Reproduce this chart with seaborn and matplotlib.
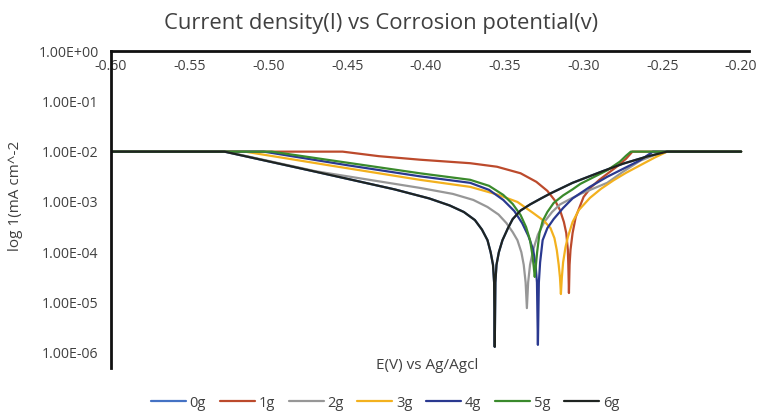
import numpy as np
import pandas as pd
import matplotlib
matplotlib.use("Agg")
import matplotlib.pyplot as plt
from matplotlib.ticker import FuncFormatter, NullLocator, FixedLocator
import seaborn as sns

# Tafel curves: potential (V) and log10 of current density
e_0g = [-0.600, -0.528, -0.470, -0.420, -0.398, -0.385, -0.376, -0.369, -0.3645, -0.361, -0.359, -0.3575, -0.3568, -0.3564,
        -0.3560, -0.3553, -0.3538, -0.3515, -0.348, -0.345, -0.340, -0.334, -0.327, -0.321, -0.307, -0.288, -0.275, -0.260, -0.247, -0.200]
log_i_0g = [-2.00, -2.00, -2.40, -2.75, -2.93, -3.07, -3.20, -3.36, -3.55, -3.76, -4.00, -4.25, -4.60, -5.88,
            -4.60, -4.25, -4.00, -3.76, -3.52, -3.34, -3.17, -3.05, -2.93, -2.83, -2.62, -2.39, -2.24, -2.10, -2.00, -2.00]

e_1g = [-0.600, -0.453, -0.430, -0.404, -0.372, -0.355, -0.340, -0.330, -0.323, -0.318, -0.315, -0.3125, -0.311, -0.310, -0.3097, -0.3093,
        -0.3089, -0.3083, -0.307, -0.305, -0.300, -0.295, -0.290, -0.279, -0.273, -0.269, -0.200]
log_i_1g = [-2.00, -2.00, -2.09, -2.16, -2.23, -2.30, -2.43, -2.60, -2.78, -2.98, -3.16, -3.40, -3.62, -3.95, -4.25, -4.81,
            -4.25, -3.95, -3.62, -3.30, -2.90, -2.70, -2.56, -2.30, -2.14, -2.00, -2.00]

e_2g = [-0.600, -0.527, -0.470, -0.404, -0.383, -0.370, -0.361, -0.354, -0.349, -0.345, -0.342, -0.3395, -0.338, -0.3368, -0.336,
        -0.3352, -0.334, -0.332, -0.329, -0.325, -0.320, -0.315, -0.309, -0.302, -0.285, -0.275, -0.264, -0.252, -0.247, -0.200]
log_i_2g = [-2.00, -2.00, -2.39, -2.72, -2.84, -2.96, -3.10, -3.25, -3.42, -3.60, -3.76, -4.00, -4.25, -4.60, -5.11,
            -4.60, -4.25, -3.95, -3.65, -3.40, -3.20, -3.05, -2.95, -2.84, -2.62, -2.40, -2.18, -2.03, -2.00, -2.00]

e_3g = [-0.600, -0.515, -0.460, -0.404, -0.372, -0.355, -0.342, -0.332, -0.325, -0.321, -0.3185, -0.317, -0.3158, -0.315, -0.3144,
        -0.3138, -0.313, -0.3115, -0.310, -0.307, -0.303, -0.296, -0.289, -0.281, -0.273, -0.264, -0.255, -0.247, -0.200]
log_i_3g = [-2.00, -2.00, -2.28, -2.56, -2.70, -2.85, -3.00, -3.22, -3.38, -3.52, -3.72, -3.96, -4.25, -4.50, -4.83,
            -4.50, -4.20, -3.90, -3.70, -3.40, -3.16, -2.92, -2.74, -2.57, -2.42, -2.27, -2.12, -2.00, -2.00]

e_4g = [-0.600, -0.503, -0.450, -0.404, -0.372, -0.360, -0.351, -0.344, -0.339, -0.335, -0.332, -0.3305, -0.3296, -0.329,
        -0.3284, -0.3276, -0.326, -0.323, -0.319, -0.313, -0.307, -0.296, -0.285, -0.264, -0.256, -0.200]
log_i_4g = [-2.00, -2.00, -2.27, -2.49, -2.62, -2.76, -2.96, -3.18, -3.42, -3.68, -3.95, -4.25, -4.60, -5.84,
            -4.60, -4.20, -3.76, -3.52, -3.34, -3.12, -2.93, -2.70, -2.50, -2.17, -2.00, -2.00]

e_5g = [-0.600, -0.498, -0.450, -0.404, -0.372, -0.360, -0.351, -0.345, -0.340, -0.3365, -0.334, -0.3325, -0.3316, -0.331,
        -0.3304, -0.3295, -0.328, -0.326, -0.323, -0.319, -0.313, -0.307, -0.302, -0.285, -0.277, -0.273, -0.270, -0.200]
log_i_5g = [-2.00, -2.00, -2.22, -2.43, -2.56, -2.68, -2.86, -3.04, -3.26, -3.50, -3.76, -4.05, -4.30, -4.49,
            -4.30, -4.00, -3.62, -3.38, -3.20, -3.02, -2.87, -2.75, -2.64, -2.37, -2.20, -2.08, -2.00, -2.00]

e_6g = [-0.600, -0.528, -0.470, -0.420, -0.398, -0.385, -0.376, -0.369, -0.3645, -0.361, -0.359, -0.3575, -0.3568, -0.3564,
        -0.3560, -0.3553, -0.3538, -0.3515, -0.348, -0.345, -0.340, -0.334, -0.327, -0.321, -0.307, -0.288, -0.275, -0.260, -0.247, -0.200]
log_i_6g = [-2.00, -2.00, -2.40, -2.75, -2.93, -3.07, -3.20, -3.36, -3.55, -3.76, -4.00, -4.25, -4.60, -5.88,
            -4.60, -4.25, -4.00, -3.76, -3.52, -3.34, -3.17, -3.05, -2.93, -2.83, -2.62, -2.39, -2.24, -2.10, -2.00, -2.00]

series_names = ["0g", "1g", "2g", "3g", "4g", "5g", "6g"]
series_e = [e_0g, e_1g, e_2g, e_3g, e_4g, e_5g, e_6g]
series_log_i = [log_i_0g, log_i_1g, log_i_2g, log_i_3g, log_i_4g, log_i_5g, log_i_6g]
colors = ["#4472C4", "#BC4A2C", "#979797", "#F3B11E", "#2A3990", "#3A8A2C", "#1F2421"]

x_ticks = [-0.60, -0.55, -0.50, -0.45, -0.40, -0.35, -0.30, -0.25, -0.20]
y_ticks = [1e-6, 1e-5, 1e-4, 1e-3, 1e-2, 1e-1, 1e0]

frames = []
for name, e, li in zip(series_names, series_e, series_log_i):
    frames.append(pd.DataFrame({"E": e, "I": 10 ** np.array(li), "sample": name}))
df = pd.concat(frames, ignore_index=True)

sns.set_style("white")
plt.rcParams["font.family"] = ["Open Sans", "DejaVu Sans"]

fig = plt.figure(figsize=(7.6, 4.11), dpi=100)
ax = fig.add_axes([111 / 760, 1 - 368 / 411, (749 - 111) / 760, (368 - 51) / 411])

sns.lineplot(data=df, x="E", y="I", hue="sample", hue_order=series_names,
             palette=colors, estimator=None, sort=False, linewidth=1.6,
             legend=False, ax=ax)
for line in ax.get_lines():
    line.set_solid_joinstyle("round")

ax.set_yscale("log")
ax.set_xlim(-0.60, -0.195)
ax.set_ylim(10 ** -6.3, 1.0)

# x axis crosses at the top of the plot, labels hang below it
ax.spines["bottom"].set_position(("data", 1.0))
ax.spines["top"].set_visible(False)
ax.spines["right"].set_visible(False)
for s in ["bottom", "left"]:
    ax.spines[s].set_linewidth(2.0)
    ax.spines[s].set_color("#111111")

ax.xaxis.set_major_locator(FixedLocator(x_ticks))
ax.xaxis.set_major_formatter(FuncFormatter(lambda v, p: f"{v:.2f}"))
ax.yaxis.set_major_locator(FixedLocator(y_ticks))
ax.yaxis.set_minor_locator(NullLocator())
ax.yaxis.set_major_formatter(FuncFormatter(lambda v, p: f"{v:.2E}"))
ax.tick_params(axis="x", length=0, pad=6, labelsize=10.2, colors="#404040")
ax.tick_params(axis="y", length=0, pad=9, labelsize=10.2, colors="#404040")
ax.set_xlabel("")
ax.set_ylabel("")

fig.text(381 / 760, 1 - 23 / 411, "Current density(I) vs Corrosion potential(v)",
         ha="center", va="center", fontsize=15.8, color="#404040")
fig.text(427 / 760, 1 - 365 / 411, "E(V) vs Ag/Agcl", ha="center", va="center",
         fontsize=11, color="#404040")
fig.text(16 / 760, 1 - 196 / 411, "log 1(mA cm^-2", ha="center", va="center",
         rotation=90, fontsize=11, color="#404040")

handles = [plt.Line2D([], [], color=c, linewidth=1.6) for c in colors]
fig.legend(handles, series_names, loc="center", bbox_to_anchor=(385 / 760, 1 - 403 / 411),
           ncol=7, frameon=False, fontsize=10.5, handlelength=2.4, handletextpad=0.25,
           columnspacing=0.95, labelcolor="#404040")

fig.savefig("out.png", dpi=100)
